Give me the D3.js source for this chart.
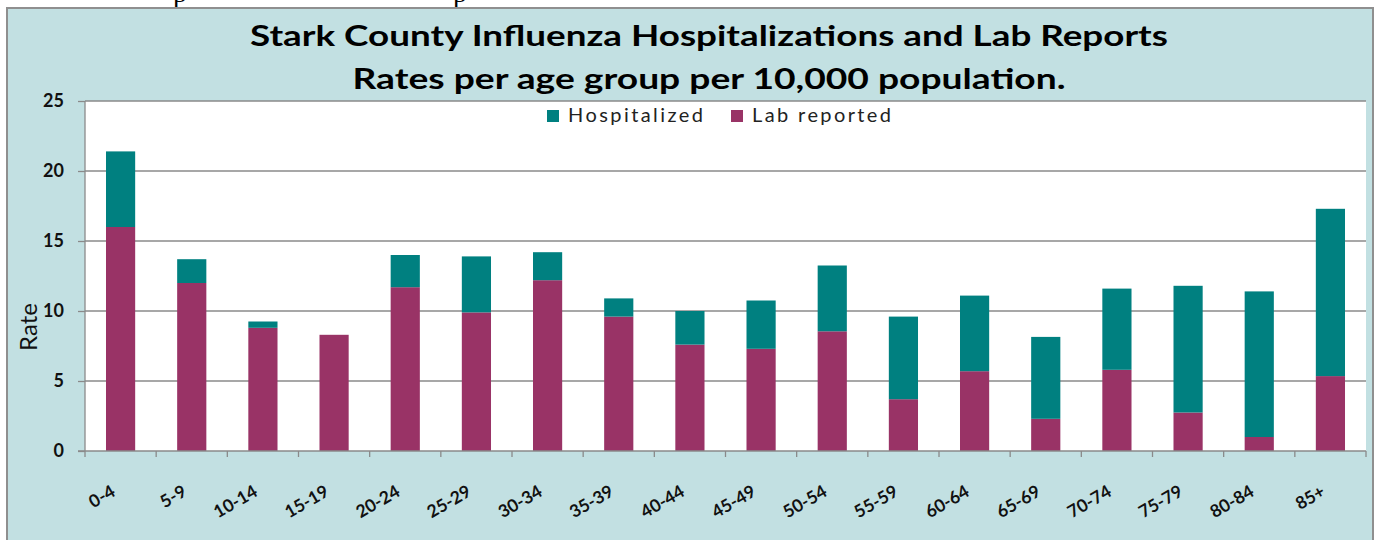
<!DOCTYPE html>
<html>
<head>
<meta charset="utf-8">
<script src="https://cdn.jsdelivr.net/npm/d3@7"></script>
<style>
  body { margin: 0; background: #fff; }
  svg { display: block; }
</style>
</head>
<body>
<div id="chart-area"></div>
<script>
// age groups along the x axis
var ageGroups = ['0-4', '5-9', '10-14', '15-19', '20-24', '25-29', '30-34', '35-39', '40-44',
    '45-49', '50-54', '55-59', '60-64', '65-69', '70-74', '75-79', '80-84', '85+'];

// rates per 10,000 (stacked: lab reported at the bottom, hospitalized on top)
var labReported = [16.0, 12.0, 8.8, 8.3, 11.7, 9.9, 12.2, 9.6, 7.6,
    7.3, 8.55, 3.7, 5.7, 2.3, 5.8, 2.75, 1.0, 5.35];
var hospitalized = [5.4, 1.7, 0.45, 0, 2.3, 4.0, 2.0, 1.3, 2.4,
    3.45, 4.7, 5.9, 5.4, 5.85, 5.8, 9.05, 10.4, 11.95];

var yTicks = [0, 5, 10, 15, 20, 25];

var seriesNames = ['Lab reported', 'Hospitalized'];
var colors = { 'Hospitalized': '#008080', 'Lab reported': '#993366' };

var W = 1377, H = 540;
var margin = { left: 85, right: 11, top: 101, bottom: 89 };
var width = W - margin.left - margin.right;
var height = H - margin.top - margin.bottom;

var rows = ageGroups.map((a, i) => ({
    age: a,
    'Lab reported': labReported[i],
    'Hospitalized': hospitalized[i]
}));

var svg = d3.select('#chart-area')
    .append('svg')
    .attr('width', W)
    .attr('height', H);

// bottom of the document line above the chart (only descenders show)
svg.append('text')
    .attr('x', 173).attr('y', 2)
    .attr('font-family', 'Liberation Serif')
    .attr('font-size', 28)
    .text('p');
svg.append('text')
    .attr('x', 453).attr('y', 2)
    .attr('font-family', 'Liberation Serif')
    .attr('font-size', 28)
    .text('p');

// chart panel
svg.append('rect')
    .attr('x', 7).attr('y', 8)
    .attr('width', 1366).attr('height', 540)
    .attr('fill', '#c2e0e2')
    .attr('stroke', '#8f8f8f')
    .attr('stroke-width', 2);

// title
var titleFont = 'Lato, "Open Sans", sans-serif';
svg.append('text')
    .attr('x', 709).attr('y', 46)
    .attr('text-anchor', 'middle')
    .attr('font-family', titleFont)
    .attr('font-weight', 'bold')
    .attr('font-size', 28)
    .attr('textLength', 918)
    .attr('lengthAdjust', 'spacingAndGlyphs')
    .text('Stark County Influenza Hospitalizations and Lab Reports');
svg.append('text')
    .attr('x', 709).attr('y', 89)
    .attr('text-anchor', 'middle')
    .attr('font-family', titleFont)
    .attr('font-weight', 'bold')
    .attr('font-size', 28)
    .attr('textLength', 713)
    .attr('lengthAdjust', 'spacingAndGlyphs')
    .text('Rates per age group per 10,000 population.');

var g = svg.append('g')
    .attr('transform', 'translate(' + margin.left + ',' + margin.top + ')');

g.append('rect')
    .attr('width', width)
    .attr('height', height)
    .attr('fill', '#fff');

var x = d3.scaleBand()
    .domain(ageGroups)
    .range([0, width])
    .paddingInner(0.59)
    .paddingOuter(0.295);

var y = d3.scaleLinear()
    .domain([0, 25])
    .range([height, 0]);

// gridlines
g.selectAll('.grid')
    .data(yTicks.slice(1))
    .enter().append('line')
    .attr('class', 'grid')
    .attr('x1', 0).attr('x2', width)
    .attr('y1', d => y(d)).attr('y2', d => y(d))
    .attr('stroke', '#8a8a8a')
    .attr('stroke-width', 1.3);

// stacked bars
var stack = d3.stack().keys(seriesNames);
var layers = stack(rows);

g.selectAll('.layer')
    .data(layers)
    .enter().append('g')
    .attr('class', 'layer')
    .attr('fill', d => colors[d.key])
    .selectAll('rect')
    .data(d => d)
    .enter().append('rect')
    .attr('x', d => x(d.data.age))
    .attr('width', x.bandwidth())
    .attr('y', d => y(d[1]))
    .attr('height', d => y(d[0]) - y(d[1]));

// y axis
var yAxis = g.append('g')
    .call(d3.axisLeft(y).tickValues(yTicks).tickSize(7).tickPadding(14));
yAxis.select('.domain').attr('stroke', '#8a8a8a').attr('stroke-width', 1.3)
    .attr('d', 'M0,' + height + 'V0');
yAxis.selectAll('.tick line').attr('stroke', '#8a8a8a').attr('stroke-width', 1.3);
yAxis.selectAll('.tick text')
    .attr('font-family', titleFont)
    .attr('font-weight', 'bold')
    .attr('font-size', 18)
    .attr('fill', '#111');

// x axis: ticks at band boundaries
var xAxisG = g.append('g')
    .attr('transform', 'translate(0,' + height + ')');
xAxisG.append('line')
    .attr('x1', -7).attr('x2', width)
    .attr('stroke', '#8a8a8a')
    .attr('stroke-width', 1.3);
var step = x.step();
xAxisG.selectAll('.xtick')
    .data(d3.range(ageGroups.length + 1))
    .enter().append('line')
    .attr('class', 'xtick')
    .attr('x1', i => i * step).attr('x2', i => i * step)
    .attr('y1', 0).attr('y2', 6)
    .attr('stroke', '#8a8a8a')
    .attr('stroke-width', 1.3);
xAxisG.selectAll('.xlabel')
    .data(ageGroups)
    .enter().append('text')
    .attr('class', 'xlabel')
    .attr('transform', d => 'translate(' + (x(d) + x.bandwidth() / 2 - 4) + ',44) rotate(-30)')
    .attr('text-anchor', 'end')
    .attr('font-family', titleFont)
    .attr('font-weight', 'bold')
    .attr('font-size', 17.5)
    .attr('fill', '#111')
    .text(d => d);

// y label
svg.append('text')
    .attr('transform', 'translate(37,327) rotate(-90)')
    .attr('text-anchor', 'middle')
    .attr('font-family', titleFont)
    .attr('font-size', 24)
    .attr('fill', '#111')
    .text('Rate');

// legend
var legendItems = [
    { name: 'Hospitalized', x: 547, len: 135 },
    { name: 'Lab reported', x: 731, len: 139 }
];
var legend = svg.selectAll('.legend')
    .data(legendItems)
    .enter().append('g')
    .attr('class', 'legend')
    .attr('transform', d => 'translate(' + d.x + ',110)');
legend.append('rect')
    .attr('width', 12).attr('height', 12)
    .attr('fill', d => colors[d.name]);
legend.append('text')
    .attr('x', 21).attr('y', 12)
    .attr('font-family', titleFont)
    .attr('font-size', 20)
    .attr('fill', '#222')
    .attr('textLength', d => d.len)
    .text(d => d.name);
</script>
</body>
</html>
